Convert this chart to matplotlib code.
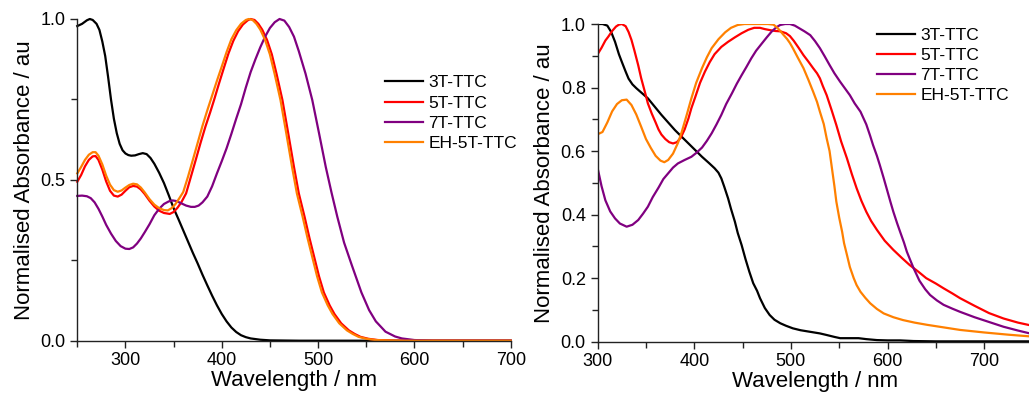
"""UV-vis absorbance spectra of the TTC series, solution (left) and film (right)."""
import matplotlib

matplotlib.use("Agg")
import matplotlib.pyplot as plt
import matplotlib.ticker as mticker

plt.rcParams["font.family"] = ["Liberation Sans", "DejaVu Sans"]

LABELS = ["3T-TTC", "5T-TTC", "7T-TTC", "EH-5T-TTC"]
COLORS = ["#000000", "#ff0000", "#800080", "#ff8000"]

# ---- left panel (solution) ------------------------------------------------
sol_3t_wl = [250, 255, 260, 263, 266, 270, 273, 276, 279, 282, 285, 288, 291, 294,
             297, 300, 303, 306, 310, 314, 318, 322, 326, 330, 335, 340, 345, 350,
             355, 360, 365, 370, 375, 380, 385, 390, 395, 400, 405, 410, 415, 420,
             425, 430, 440, 450, 480, 700]
sol_3t_abs = [0.978, 0.985, 0.996, 1.0, 0.997, 0.985, 0.966, 0.93, 0.885, 0.82,
              0.75, 0.69, 0.645, 0.612, 0.592, 0.582, 0.577, 0.575, 0.576, 0.58,
              0.583, 0.58, 0.568, 0.55, 0.522, 0.49, 0.452, 0.412, 0.378, 0.343,
              0.308, 0.273, 0.24, 0.205, 0.172, 0.14, 0.11, 0.083, 0.06, 0.041,
              0.027, 0.017, 0.011, 0.007, 0.003, 0.001, 0.0, 0.0]

sol_5t_wl = [250, 254, 258, 262, 266, 269, 272, 276, 280, 284, 288, 292, 296, 300,
             304, 308, 312, 316, 320, 325, 330, 335, 340, 346, 350, 354, 358, 363,
             368, 373, 378, 383, 388, 392, 397, 402, 407, 412, 417, 422, 427, 430,
             434, 438, 442, 447, 452, 457, 463, 469, 475, 480, 486, 491, 496, 501,
             506, 512, 517, 524, 532, 538, 544, 552, 562, 580, 700]
sol_5t_abs = [0.494, 0.515, 0.542, 0.562, 0.573, 0.574, 0.562, 0.532, 0.495, 0.466,
              0.451, 0.448, 0.454, 0.466, 0.477, 0.481, 0.479, 0.47, 0.456, 0.435,
              0.417, 0.404, 0.397, 0.394, 0.4, 0.413, 0.43, 0.458, 0.51, 0.562,
              0.615, 0.665, 0.71, 0.748, 0.798, 0.846, 0.893, 0.932, 0.962, 0.983,
              0.996, 1.0, 0.997, 0.985, 0.967, 0.935, 0.89, 0.828, 0.748, 0.645,
              0.54, 0.458, 0.385, 0.32, 0.26, 0.2, 0.15, 0.11, 0.083, 0.054, 0.032,
              0.021, 0.012, 0.006, 0.002, 0.0, 0.0]

sol_7t_wl = [250, 255, 260, 264, 268, 272, 276, 280, 285, 290, 295, 300, 304, 308,
             312, 316, 320, 325, 330, 335, 340, 345, 349, 353, 358, 363, 368, 372,
             376, 380, 385, 390, 395, 400, 405, 410, 415, 420, 425, 430, 435, 440,
             445, 450, 455, 460, 465, 470, 475, 480, 487, 494, 501, 508, 514, 520,
             527, 535, 545, 553, 560, 570, 580, 587, 600, 620, 700]
sol_7t_abs = [0.45, 0.451, 0.449, 0.443, 0.43, 0.41, 0.386, 0.36, 0.333, 0.31,
              0.294, 0.286, 0.285, 0.29, 0.302, 0.318, 0.337, 0.362, 0.39, 0.41,
              0.425, 0.433, 0.436, 0.434, 0.427, 0.42, 0.416, 0.416, 0.42, 0.43,
              0.448, 0.48, 0.52, 0.558, 0.598, 0.643, 0.69, 0.735, 0.787, 0.835,
              0.875, 0.912, 0.945, 0.972, 0.99, 1.0, 0.995, 0.975, 0.945, 0.9, 0.83,
              0.748, 0.645, 0.54, 0.46, 0.385, 0.305, 0.235, 0.15, 0.095, 0.06,
              0.028, 0.013, 0.007, 0.002, 0.0, 0.0]

sol_eh_wl = [250, 254, 258, 262, 266, 269, 272, 276, 280, 284, 288, 292, 296, 300,
             304, 308, 312, 316, 320, 325, 330, 335, 340, 344, 348, 352, 356, 360,
             365, 370, 375, 380, 385, 390, 395, 400, 405, 410, 415, 420, 425, 428,
             432, 436, 440, 445, 450, 455, 461, 467, 473, 478, 484, 489, 494, 499,
             504, 510, 515, 522, 530, 536, 542, 550, 560, 580, 700]
sol_eh_abs = [0.52, 0.54, 0.562, 0.578, 0.586, 0.586, 0.575, 0.548, 0.513, 0.485,
              0.468, 0.463, 0.467, 0.476, 0.484, 0.488, 0.486, 0.476, 0.461, 0.44,
              0.423, 0.412, 0.406, 0.405, 0.412, 0.425, 0.443, 0.462, 0.51, 0.562,
              0.615, 0.668, 0.716, 0.762, 0.808, 0.852, 0.897, 0.937, 0.965, 0.985,
              0.997, 1.0, 0.997, 0.985, 0.967, 0.935, 0.89, 0.828, 0.748, 0.645,
              0.54, 0.458, 0.385, 0.32, 0.26, 0.2, 0.15, 0.11, 0.083, 0.054, 0.032,
              0.021, 0.012, 0.006, 0.002, 0.0, 0.0]

# ---- right panel (film) ---------------------------------------------------
film_3t_wl = [300, 305, 310, 314, 318, 322, 325, 329, 332, 336, 340, 346, 352, 359,
              366, 373, 380, 387, 394, 401, 408, 415, 421, 425, 428, 431, 435, 438,
              442, 445, 449, 453, 457, 461, 465, 468, 473, 478, 483, 489, 495, 502,
              510, 520, 530, 537, 545, 551, 560, 570, 578, 589, 600, 613, 620, 627,
              650, 750]
film_3t_abs = [1.0, 1.0, 0.995, 0.975, 0.944, 0.905, 0.881, 0.85, 0.828, 0.81,
               0.798, 0.782, 0.766, 0.74, 0.714, 0.69, 0.666, 0.645, 0.624, 0.603,
               0.582, 0.563, 0.546, 0.532, 0.514, 0.488, 0.451, 0.418, 0.378, 0.342,
               0.304, 0.26, 0.22, 0.184, 0.16, 0.137, 0.106, 0.084, 0.069, 0.058,
               0.05, 0.042, 0.036, 0.031, 0.026, 0.021, 0.015, 0.011, 0.011, 0.011,
               0.008, 0.005, 0.004, 0.004, 0.003, 0.002, 0.001, 0.001]

film_5t_wl = [300, 304, 308, 311, 315, 319, 322, 325, 329, 332, 335, 338, 342, 345,
              349, 352, 356, 360, 363, 366, 370, 374, 378, 382, 386, 390, 394, 397,
              401, 406, 411, 416, 421, 428, 435, 442, 449, 456, 462, 468, 473, 478,
              484, 489, 495, 499, 503, 508, 513, 518, 523, 527, 530, 533, 537, 542,
              547, 552, 558, 563, 568, 573, 578, 583, 589, 597, 606, 615, 623, 632,
              640, 650, 658, 667, 675, 690, 705, 720, 735, 750]
film_5t_abs = [0.905, 0.925, 0.948, 0.96, 0.978, 0.992, 0.998, 1.0, 0.993, 0.975,
               0.95, 0.917, 0.87, 0.83, 0.785, 0.75, 0.718, 0.69, 0.668, 0.652, 0.638,
               0.628, 0.624, 0.628, 0.642, 0.668, 0.703, 0.735, 0.77, 0.815, 0.85,
               0.88, 0.905, 0.928, 0.944, 0.958, 0.971, 0.982, 0.988, 0.988, 0.984,
               0.981, 0.978, 0.977, 0.971, 0.962, 0.947, 0.925, 0.902, 0.882, 0.861,
               0.845, 0.829, 0.805, 0.776, 0.73, 0.682, 0.63, 0.577, 0.528, 0.483,
               0.443, 0.409, 0.38, 0.352, 0.318, 0.289, 0.263, 0.241, 0.22, 0.2,
               0.183, 0.168, 0.152, 0.137, 0.113, 0.09, 0.073, 0.06, 0.05]

film_7t_wl = [300, 304, 308, 313, 318, 323, 330, 336, 342, 347, 352, 357, 363, 368,
              373, 378, 383, 390, 397, 402, 408, 413, 418, 423, 428, 433, 439, 444,
              449, 454, 459, 464, 470, 475, 480, 485, 489, 494, 499, 504, 509, 514,
              520, 525, 530, 535, 540, 545, 551, 556, 561, 566, 572, 578, 582, 585,
              589, 592, 596, 599, 603, 606, 610, 613, 617, 620, 624, 627, 633, 639,
              644, 651, 658, 667, 675, 690, 705, 720, 735, 750]
film_7t_abs = [0.546, 0.49, 0.445, 0.41, 0.388, 0.372, 0.362, 0.368, 0.383, 0.403,
               0.425, 0.455, 0.485, 0.512, 0.53, 0.548, 0.561, 0.572, 0.582, 0.594,
               0.611, 0.632, 0.656, 0.684, 0.714, 0.748, 0.782, 0.812, 0.839, 0.865,
               0.892, 0.916, 0.939, 0.958, 0.976, 0.99, 0.997, 1.0, 1.0, 0.995, 0.986,
               0.977, 0.965, 0.946, 0.924, 0.898, 0.871, 0.845, 0.818, 0.797, 0.776,
               0.75, 0.724, 0.684, 0.648, 0.619, 0.585, 0.556, 0.515, 0.483, 0.44,
               0.409, 0.372, 0.346, 0.312, 0.283, 0.253, 0.231, 0.192, 0.165, 0.147,
               0.13, 0.116, 0.104, 0.094, 0.077, 0.062, 0.047, 0.035, 0.024]

film_eh_wl = [300, 305, 310, 315, 320, 325, 330, 335, 340, 345, 350, 355, 360, 365,
              369, 373, 378, 383, 387, 392, 397, 402, 408, 413, 418, 425, 432, 438,
              445, 452, 460, 468, 476, 482, 486, 489, 492, 496, 499, 502, 507, 513,
              518, 523, 527, 530, 534, 537, 540, 542, 545, 547, 550, 553, 555, 558,
              561, 565, 568, 572, 577, 582, 589, 596, 606, 616, 628, 641, 658, 675,
              700, 725, 750]
film_eh_abs = [0.653, 0.66, 0.69, 0.725, 0.748, 0.76, 0.762, 0.745, 0.715, 0.677,
               0.638, 0.61, 0.585, 0.57, 0.565, 0.572, 0.592, 0.625, 0.66, 0.712,
               0.766, 0.815, 0.861, 0.895, 0.924, 0.952, 0.974, 0.988, 0.997, 1.0,
               1.0, 1.0, 1.0, 0.998, 0.988, 0.978, 0.967, 0.953, 0.94, 0.924, 0.895,
               0.861, 0.825, 0.787, 0.755, 0.724, 0.685, 0.64, 0.6, 0.556, 0.49,
               0.441, 0.39, 0.346, 0.31, 0.273, 0.235, 0.2, 0.178, 0.157, 0.138,
               0.121, 0.103, 0.089, 0.077, 0.068, 0.06, 0.053, 0.045, 0.037, 0.029,
               0.022, 0.016]

sol_series = [(sol_3t_wl, sol_3t_abs), (sol_5t_wl, sol_5t_abs),
              (sol_7t_wl, sol_7t_abs), (sol_eh_wl, sol_eh_abs)]
film_series = [(film_3t_wl, film_3t_abs), (film_5t_wl, film_5t_abs),
               (film_7t_wl, film_7t_abs), (film_eh_wl, film_eh_abs)]


def style_axes(ax, xlim, ymajor, yminor):
    ax.set_xlim(*xlim)
    ax.set_ylim(0, 1.0)
    ax.spines["top"].set_visible(False)
    ax.spines["right"].set_visible(False)
    for s in ("left", "bottom"):
        ax.spines[s].set_color("#222222")
        ax.spines[s].set_linewidth(1.0)
    ax.xaxis.set_major_locator(mticker.MultipleLocator(100))
    ax.xaxis.set_minor_locator(mticker.MultipleLocator(50))
    ax.yaxis.set_major_locator(mticker.MultipleLocator(ymajor))
    ax.yaxis.set_minor_locator(mticker.MultipleLocator(yminor))
    ax.yaxis.set_major_formatter(mticker.FormatStrFormatter("%.1f"))
    ax.tick_params(which="both", direction="out", labelsize=13, color="#222222")
    ax.tick_params(which="major", length=5, width=1.0)
    ax.tick_params(which="minor", length=4, width=1.0)
    ax.set_xlabel("Wavelength / nm", fontsize=16, labelpad=0.5)
    ax.set_ylabel("Normalised Absorbance / au", fontsize=16, labelpad=4)


fig = plt.figure(figsize=(10.29, 3.95), dpi=100)
ax1 = fig.add_axes([0.0751, 0.1375, 0.4212, 0.8144])
ax2 = fig.add_axes([0.5808, 0.135, 0.4226, 0.8042])

for (wl, ab), lab, col in zip(sol_series, LABELS, COLORS):
    ax1.plot(wl, ab, color=col, lw=1.6, label=lab, clip_on=False)
for (wl, ab), lab, col in zip(film_series, LABELS, COLORS):
    ax2.plot(wl, ab, color=col, lw=1.6, label=lab)

style_axes(ax1, (250, 700), 0.5, 0.25)
style_axes(ax2, (300, 750), 0.2, 0.1)

leg_kw = dict(frameon=False, fontsize=12.5, handlelength=2.2, handletextpad=0.3,
              labelspacing=0.29, borderpad=0, borderaxespad=0, loc="upper left")
ax1.legend(bbox_to_anchor=(0.71, 0.825), **leg_kw)
ax2.legend(bbox_to_anchor=(0.642, 0.989), **leg_kw)

fig.savefig("out.png", dpi=100)
